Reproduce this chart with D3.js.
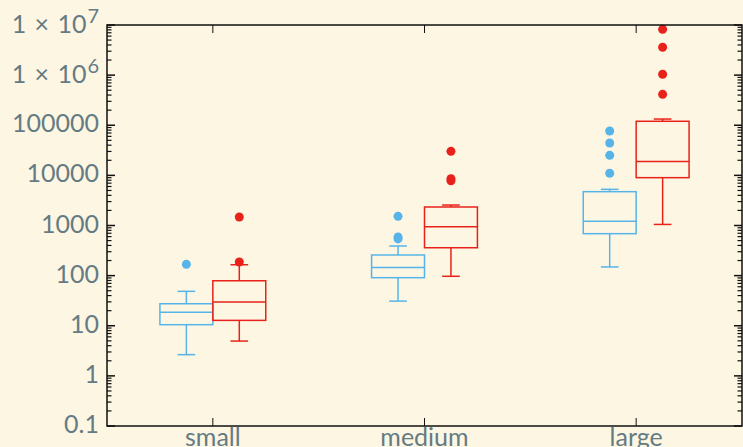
<!DOCTYPE html>
<html>
<head>
<meta charset="utf-8">
<script src="https://cdn.jsdelivr.net/npm/d3@7"></script>
<style>
  html, body { margin: 0; padding: 0; background: #fdf6e3; }
  svg { display: block; font-family: Lato, "Open Sans", sans-serif; }
</style>
</head>
<body>
<div id="chart"></div>
<script>
// categories and series
const categories = ['small', 'medium', 'large'];
const seriesNames = ['a', 'b'];
const seriesColors = ['#56b4e9', '#e8221b'];

// box stats per series, one value per category
const lowWhisker = [[2.65, 31, 149], [4.95, 97, 1050]];
const q1 = [[10.5, 91, 687], [12.8, 360, 9000]];
const median = [[18.5, 146, 1213], [29.8, 946, 19000]];
const q3 = [[27.5, 258, 4730], [79, 2340, 120000]];
const highWhisker = [[48.6, 390, 5270], [165, 2560, 133000]];
const outliers = [
    [[168], [540, 590, 1525], [11000, 25100, 44200, 76800]],
    [[187, 1480], [7800, 8600, 30200], [414000, 1040000, 3590000, 8200000]]
];

const yTicks = [0.1, 1, 10, 100, 1000, 10000, 100000, 1e6, 1e7];

const width = 743, height = 447;
const margin = { top: 25, right: 1, bottom: 21, left: 107 };
const textColor = '#657b83';

const svg = d3.select('#chart').append('svg')
    .attr('width', width)
    .attr('height', height);

const x = d3.scaleBand()
    .domain(categories)
    .range([margin.left, width - margin.right])
    .padding(0);

const boxW = x.bandwidth() / 4;
const xInner = d3.scaleBand()
    .domain(seriesNames)
    .range([-boxW, boxW])
    .padding(0);

const y = d3.scaleLog()
    .domain([0.1, 1e7])
    .range([height - margin.bottom, margin.top]);

const x0 = margin.left, x1 = width - margin.right;
const y0 = height - margin.bottom, y1 = margin.top;

// minor ticks 2..9 per decade
const minorTicks = [];
for (let e = -1; e < 7; e++) {
    for (let m = 2; m <= 9; m++) minorTicks.push(m * Math.pow(10, e));
}

// boxes
seriesNames.forEach((s, si) => {
    const color = seriesColors[si];
    const g = svg.append('g').attr('stroke', color).attr('fill', 'none').attr('stroke-width', 1.5);
    categories.forEach((c, ci) => {
        const left = x(c) + x.bandwidth() / 2 + xInner(s);
        const cx = left + xInner.bandwidth() / 2;
        const capW = xInner.bandwidth() / 3;

        // whiskers
        g.append('line')
            .attr('x1', cx).attr('x2', cx)
            .attr('y1', y(q3[si][ci])).attr('y2', y(highWhisker[si][ci]));
        g.append('line')
            .attr('x1', cx).attr('x2', cx)
            .attr('y1', y(q1[si][ci])).attr('y2', y(lowWhisker[si][ci]));
        g.append('line')
            .attr('x1', cx - capW / 2).attr('x2', cx + capW / 2)
            .attr('y1', y(highWhisker[si][ci])).attr('y2', y(highWhisker[si][ci]));
        g.append('line')
            .attr('x1', cx - capW / 2).attr('x2', cx + capW / 2)
            .attr('y1', y(lowWhisker[si][ci])).attr('y2', y(lowWhisker[si][ci]));

        // box
        g.append('rect')
            .attr('x', left)
            .attr('y', y(q3[si][ci]))
            .attr('width', xInner.bandwidth())
            .attr('height', y(q1[si][ci]) - y(q3[si][ci]));
        g.append('line')
            .attr('x1', left).attr('x2', left + xInner.bandwidth())
            .attr('y1', y(median[si][ci])).attr('y2', y(median[si][ci]));

        // outliers
        svg.append('g').selectAll('circle')
            .data(outliers[si][ci])
            .join('circle')
            .attr('cx', cx)
            .attr('cy', d => y(d))
            .attr('r', 4.5)
            .attr('fill', color);
    });
});

// frame
const frame = svg.append('g').attr('stroke', '#111').attr('stroke-width', 1.5);
frame.append('rect')
    .attr('x', x0).attr('y', y1)
    .attr('width', x1 - x0).attr('height', y0 - y1)
    .attr('fill', 'none');

// y ticks, left and right, pointing inward
[[x0, 1], [x1, -1]].forEach(([ax, dir]) => {
    frame.selectAll(null)
        .data(yTicks)
        .join('line')
        .attr('x1', ax).attr('x2', ax + dir * 8)
        .attr('y1', d => y(d)).attr('y2', d => y(d));
    frame.selectAll(null)
        .data(minorTicks)
        .join('line')
        .attr('stroke-width', 1.2)
        .attr('x1', ax).attr('x2', ax + dir * 4.5)
        .attr('y1', d => y(d)).attr('y2', d => y(d));
});

// x ticks, top and bottom
[[y0, -1], [y1, 1]].forEach(([ay, dir]) => {
    frame.selectAll(null)
        .data(categories)
        .join('line')
        .attr('stroke-width', 1)
        .attr('x1', d => x(d) + x.bandwidth() / 2).attr('x2', d => x(d) + x.bandwidth() / 2)
        .attr('y1', ay).attr('y2', ay + dir * 8);
});

// y tick labels
const yLab = svg.append('g')
    .attr('fill', textColor)
    .attr('font-size', 25)
    .attr('text-anchor', 'end');
yTicks.forEach(v => {
    const labX = x0 - 8;
    if (v >= 1e6) {
        // superscript exponent, then the mantissa to its left
        const sup = yLab.append('text')
            .attr('x', labX)
            .attr('y', y(v) - 2)
            .attr('font-size', 20)
            .text(Math.round(Math.log10(v)));
        const supW = sup.node().getComputedTextLength();
        yLab.append('text')
            .attr('x', labX - supW - 1)
            .attr('y', y(v) + 8)
            .text('1\u2004×\u200410');
    } else {
        yLab.append('text')
            .attr('x', labX)
            .attr('y', y(v) + 7)
            .text(v < 1 ? '0.1' : d3.format('d')(v));
    }
});

// x tick labels
svg.append('g')
    .attr('fill', textColor)
    .attr('font-size', 25)
    .attr('text-anchor', 'middle')
    .selectAll('text')
    .data(categories)
    .join('text')
    .attr('x', d => x(d) + x.bandwidth() / 2)
    .attr('y', y0 + 20)
    .text(d => d);
</script>
</body>
</html>
